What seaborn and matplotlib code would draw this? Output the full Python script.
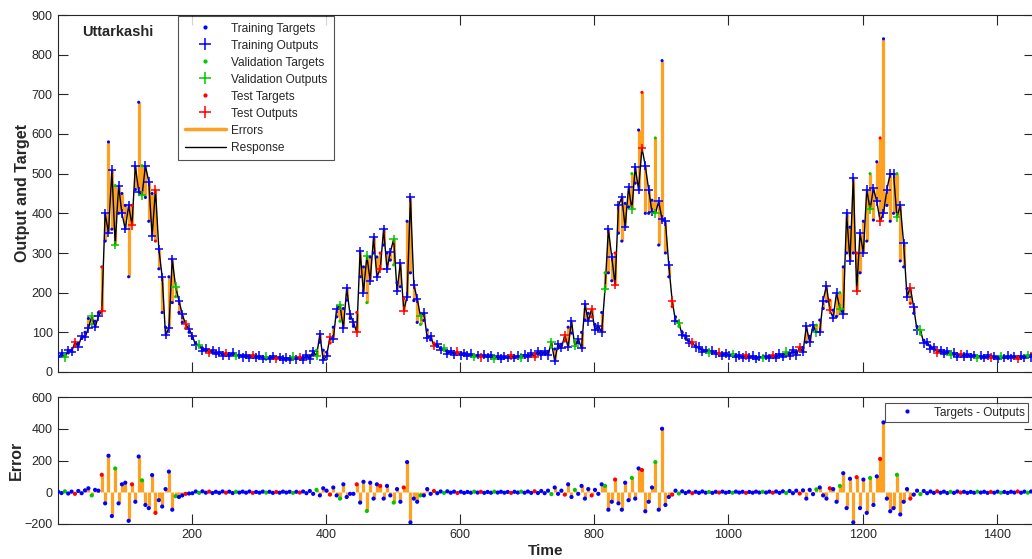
import numpy as np
import pandas as pd
import matplotlib
matplotlib.use("Agg")
import matplotlib.pyplot as plt
from matplotlib.lines import Line2D
import seaborn as sns

# Daily index of the series, one sample every 5 days
day = np.arange(1, 1457, 5)

# Observed discharge (targets)
target = [
    40, 42, 43, 48, 55, 65, 72, 85, 100, 135,
    120, 128, 150, 265, 330, 580, 360, 470, 400, 450,
    420, 240, 420, 460, 680, 520, 440, 380, 450, 330,
    260, 150, 113, 240, 175, 190, 150, 125, 110, 100,
    85, 72, 65, 60, 56, 53, 50, 48, 47, 46,
    45, 44, 44, 43, 42, 41, 40, 40, 39, 38,
    38, 37, 37, 36, 36, 35, 35, 35, 34, 34,
    35, 35, 36, 36, 38, 40, 43, 55, 75, 55,
    50, 73, 113, 139, 128, 160, 181, 135, 115, 150,
    240, 265, 175, 290, 300, 290, 300, 320, 300, 282,
    270, 225, 215, 185, 380, 250, 180, 125, 120, 130,
    106, 81, 73, 65, 60, 56, 52, 50, 48, 46,
    45, 44, 43, 43, 42, 41, 40, 40, 39, 39,
    38, 38, 37, 37, 37, 38, 38, 39, 40, 41,
    42, 43, 45, 48, 50, 47, 52, 63, 58, 60,
    70, 78, 113, 98, 80, 73, 100, 131, 148, 139,
    120, 106, 150, 250, 250, 230, 300, 350, 330, 425,
    416, 500, 476, 610, 705, 400, 400, 433, 590, 320,
    785, 300, 240, 165, 139, 115, 100, 85, 78, 70,
    65, 60, 56, 53, 51, 50, 48, 47, 45, 44,
    43, 42, 41, 40, 39, 38, 38, 38, 37, 37,
    38, 38, 39, 40, 41, 42, 44, 46, 48, 50,
    52, 55, 62, 75, 90, 106, 118, 131, 160, 178,
    181, 156, 140, 200, 265, 300, 365, 300, 300, 250,
    380, 330, 500, 383, 530, 590, 840, 420, 380, 400,
    500, 280, 265, 210, 173, 148, 115, 95, 80, 70,
    64, 58, 55, 52, 50, 48, 47, 45, 44, 43,
    42, 41, 40, 40, 39, 39, 38, 38, 38, 37,
    37, 37, 37, 37, 38, 38, 38, 38, 39, 40,
    42, 45,
]

# Targets - Outputs
error = [
    3, -5, 6, -8, 4, -10, 8, -6, 12, 25,
    -20, 15, 10, 110, -70, 230, -150, 150, -70, 50,
    60, -180, 50, -60, 225, 75, -80, -100, 108, -130,
    -50, -90, 20, 130, -110, -25, -30, -20, -10, -8,
    -6, 5, -4, 6, -3, 4, -5, 3, -4, 5,
    -3, 4, -5, 3, -2, 4, -3, 5, -4, 2,
    -3, 4, -2, 3, -4, 2, -3, 4, -2, 3,
    -4, 3, -2, 5, -6, 8, -10, 15, -20, 25,
    10, -15, 30, -20, -40, 50, -30, -10, -10, 50,
    -65, 66, -118, 60, -40, 50, 40, -40, 40, -20,
    -65, 20, -60, 30, 190, -190, -40, -60, -20, -20,
    20, -10, 8, -6, 5, -4, 6, -3, 4, -5,
    3, -4, 2, -3, 4, -2, 3, -4, 2, -3,
    4, -2, 3, -3, 2, -4, 3, -2, 4, -3,
    5, -4, 6, -5, 8, -6, 10, -12, 30, -10,
    10, -15, 50, -30, 15, -10, 40, -40, 20, -20,
    15, -10, 50, 40, -110, -60, 80, -70, -110, 60,
    -50, 90, -40, 150, 140, -120, -60, 30, 190, -110,
    400, -80, -30, -15, 10, -8, 6, -5, 4, -6,
    3, -4, 5, -3, 2, -4, 3, -2, 4, -3,
    2, -3, 4, -2, 3, -4, 2, -3, 4, -2,
    3, -2, 4, -3, 5, -4, 6, -5, 8, -6,
    10, -8, 12, -40, 15, -12, 18, 30, -20, -40,
    25, 20, -60, 40, 120, -100, 85, -190, 95, -100,
    80, -130, 90, -80, 100, 210, 440, -40, -120, -100,
    110, -140, -60, 20, -40, -15, 10, -12, 8, -6,
    5, -4, 6, -3, 4, -5, 3, -4, 5, -2,
    3, -4, 2, -3, 4, -2, 3, -4, 2, -3,
    4, -3, 2, -4, 3, -2, 5, -3, 4, -3,
    5, -4,
]

# Data division: T = training, V = validation, S = test
split_groups = [
    "TTVTTSTTTT", "VTTSTTTVTT", "TTSTTVTTTS", "TTTTTVTTST", "TTVTTSTTTT",
    "STTVTTTTST", "TTVTTSTTTT", "VTSTTTTVTT", "TSTTVTTTTS", "TTVTTTSTTT",
    "VTTSTTTTVT", "TTSTTVTTTS", "TTTTVTSTTT", "VTTTTSTTVT", "TTSTTTTVTT",
    "TSTTVTTTTS", "TTTVTTSTTT", "TVTTSTTTVT", "TTTSTVTTTS", "TTTTVTTSTT",
    "TVTTTSTTTT", "VTTSTTTVTT", "TSTTTTVTTT", "STTVTTTTST", "TTVTTSTTTT",
    "VTTTSTTVTT", "TTSTTTVTTS", "TTTTVTTTST", "TVTTTTSTTV", "TS",
]

set_names = {"T": "Training", "V": "Validation", "S": "Test"}
palette = {"Training": "#0000FF", "Validation": "#00C800", "Test": "#FF0000"}
err_color = "#FFA01E"

df = pd.DataFrame({"day": day, "target": target, "error": error})
df["output"] = df["target"] - df["error"]
df["set"] = [set_names[c] for c in "".join(split_groups)]

sns.set_style("ticks")
plt.rcParams["font.family"] = ["Liberation Sans", "DejaVu Sans"]
plt.rcParams["axes.edgecolor"] = "#262626"
plt.rcParams["axes.linewidth"] = 0.8

W, H = 1032, 559
fig = plt.figure(figsize=(W / 100, H / 100), dpi=100)
x0, xw = 57.5, 976.3
ax1 = fig.add_axes([x0 / W, 1 - 372 / H, xw / W, 357 / H])
ax2 = fig.add_axes([x0 / W, 1 - 524 / H, xw / W, 127 / H])

# Response panel
ax1.vlines(df["day"], df["target"], df["output"], color=err_color, lw=2.3, zorder=1)
sns.lineplot(data=df, x="day", y="output", color="black", lw=1.0,
             estimator=None, sort=False, ax=ax1, zorder=2)
sns.scatterplot(data=df, x="day", y="output", hue="set", palette=palette,
                marker="+", s=38, linewidth=1.1, legend=False, ax=ax1, zorder=3)
sns.scatterplot(data=df, x="day", y="target", hue="set", palette=palette,
                marker="o", s=5, linewidth=0, legend=False, ax=ax1, zorder=4)

# Error panel
ax2.vlines(df["day"], 0, df["error"], color=err_color, lw=2.3, zorder=1)
sns.scatterplot(data=df, x="day", y="error", hue="set", palette=palette,
                marker="o", s=9, linewidth=0, legend=False, ax=ax2, zorder=3)

for ax in (ax1, ax2):
    ax.set_xlim(0, 1455)
    ax.set_xticks(range(200, 1401, 200))
    ax.tick_params(direction="in", top=True, right=True, length=7, width=0.8,
                   labelsize=9, colors="#262626")
    for sp in ax.spines.values():
        sp.set_visible(True)

ax1.set_ylim(0, 900)
ax1.set_yticks(range(0, 901, 100))
ax1.tick_params(labelbottom=False)
ax1.set_xlabel("")
ax1.set_ylabel("Output and Target", fontsize=11.5, fontweight="bold")
ax1.yaxis.set_label_coords(-0.028, 0.5)
ax1.text(0.025, 0.952, "Uttarkashi", transform=ax1.transAxes, fontsize=10.5,
         fontweight="bold", va="center", ha="left")

ax2.set_ylim(-200, 600)
ax2.set_yticks(range(-200, 601, 200))
ax2.set_xlabel("Time", fontsize=11, fontweight="bold")
ax2.xaxis.set_label_coords(0.5, -0.155)
ax2.set_ylabel("Error", fontsize=11.5, fontweight="bold")
ax2.yaxis.set_label_coords(-0.034, 0.5)

handles, labels = [], []
for name in ("Training", "Validation", "Test"):
    c = palette[name]
    handles.append(Line2D([0], [0], ls="none", marker=".", ms=4, color=c))
    labels.append(f"{name} Targets")
    handles.append(Line2D([0], [0], ls="none", marker="+", ms=8, mew=1.1, color=c))
    labels.append(f"{name} Outputs")
handles.append(Line2D([0], [0], color=err_color, lw=2.5))
labels.append("Errors")
handles.append(Line2D([0], [0], color="black", lw=1.0))
labels.append("Response")

leg1 = ax1.legend(handles, labels, loc="upper left",
                  bbox_to_anchor=((178 - x0) / xw, 1 - 1 / 357),
                  fontsize=8.6, frameon=True, fancybox=False, edgecolor="#262626",
                  handlelength=3.5, handletextpad=0.4, borderpad=0.55,
                  labelspacing=0.42, borderaxespad=0)
leg1.get_frame().set_linewidth(0.8)

leg2 = ax2.legend([Line2D([0], [0], ls="none", marker=".", ms=4, color="#0000FF")],
                  ["Targets - Outputs"], loc="upper left",
                  bbox_to_anchor=((885 - x0) / xw, 1 - 6 / 127),
                  fontsize=8.6, frameon=True, fancybox=False, edgecolor="#262626",
                  handlelength=3.0, handletextpad=0.8, borderpad=0.3,
                  borderaxespad=0)
leg2.get_frame().set_linewidth(0.8)

fig.savefig("out.png", dpi=100)
